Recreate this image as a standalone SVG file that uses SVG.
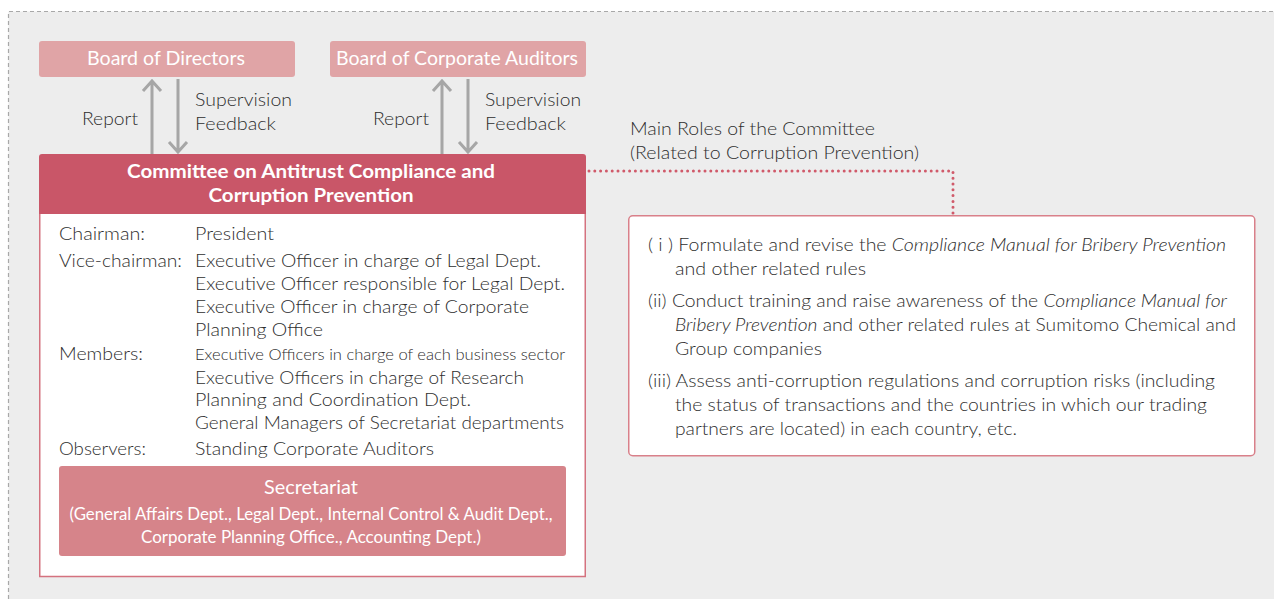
<svg xmlns="http://www.w3.org/2000/svg" width="1274" height="599" viewBox="0 0 1274 599">
<defs>
<style>
text{font-family:Lato,"Open Sans","Liberation Sans",sans-serif;}
.t{fill:#2e2e2e;font-size:18.5px;font-weight:300;}
.w{fill:#fff;font-size:19px;font-weight:400;}
.b{fill:#fff;font-size:19.5px;font-weight:bold;}
.arr{stroke:#a6a6a6;stroke-width:3;fill:none;stroke-linejoin:miter;}
.board{fill:#e0a4a6;}
.i{font-style:italic;}
</style>
</defs>
<rect x="0" y="0" width="1274" height="599" fill="#fff"/>
<rect x="8.5" y="11.5" width="1270" height="592" fill="#ededed"/>
<path d="M8.5 599 V11.5 H1274" fill="none" stroke="#a8a8a8" stroke-width="1.2" stroke-dasharray="4 3"/>

<g id="board-directors">
<rect class="board" x="39" y="41" width="256" height="36" rx="3"/>
<text class="w" x="166" y="65" text-anchor="middle" textLength="158" lengthAdjust="spacingAndGlyphs">Board of Directors</text>
</g>
<g id="board-auditors">
<rect class="board" x="330" y="41" width="256" height="36" rx="3"/>
<text class="w" x="457" y="65" text-anchor="middle" textLength="242" lengthAdjust="spacingAndGlyphs">Board of Corporate Auditors</text>
</g>

<g id="connectors">
<path class="arr" d="M152 154 V81 M143 91 L152 81 L161 91"/>
<path class="arr" d="M178 79 V152 M169 142 L178 152 L187 142"/>
<path class="arr" d="M442 154 V81 M433 91 L442 81 L451 91"/>
<path class="arr" d="M468 79 V152 M459 142 L468 152 L477 142"/>
<path d="M589 171 H953 V214" fill="none" stroke="#d05a6a" stroke-width="3" stroke-linecap="round" stroke-dasharray="0 5.8"/>
<text class="t" x="82" y="125" textLength="56" lengthAdjust="spacingAndGlyphs">Report</text>
<text class="t" x="195" y="106" textLength="97" lengthAdjust="spacingAndGlyphs">Supervision</text>
<text class="t" x="195" y="130" textLength="81" lengthAdjust="spacingAndGlyphs">Feedback</text>
<text class="t" x="373" y="125" textLength="56" lengthAdjust="spacingAndGlyphs">Report</text>
<text class="t" x="485" y="106" textLength="96" lengthAdjust="spacingAndGlyphs">Supervision</text>
<text class="t" x="485" y="130" textLength="81" lengthAdjust="spacingAndGlyphs">Feedback</text>
</g>

<g id="committee">
<rect x="39.75" y="160" width="545.5" height="416.5" fill="#fff" stroke="#d4727f" stroke-width="1.5"/>
<path d="M39 214 V157 Q39 154 42 154 H583 Q586 154 586 157 V214 Z" fill="#c95668"/>
<text class="b" x="311" y="178" text-anchor="middle" textLength="368" lengthAdjust="spacingAndGlyphs">Committee on Antitrust Compliance and</text>
<text class="b" x="311" y="202" text-anchor="middle" textLength="205" lengthAdjust="spacingAndGlyphs">Corruption Prevention</text>
<text class="t" x="59" y="240" textLength="86" lengthAdjust="spacingAndGlyphs">Chairman:</text>
<text class="t" x="195" y="240" textLength="79" lengthAdjust="spacingAndGlyphs">President</text>
<text class="t" x="59" y="267" textLength="123" lengthAdjust="spacingAndGlyphs">Vice-chairman:</text>
<text class="t" x="195" y="267" textLength="346" lengthAdjust="spacingAndGlyphs">Executive Officer in charge of Legal Dept.</text>
<text class="t" x="195" y="290" textLength="370" lengthAdjust="spacingAndGlyphs">Executive Officer responsible for Legal Dept.</text>
<text class="t" x="195" y="313" textLength="334" lengthAdjust="spacingAndGlyphs">Executive Officer in charge of Corporate</text>
<text class="t" x="195" y="336" textLength="128" lengthAdjust="spacingAndGlyphs">Planning Office</text>
<text class="t" x="59" y="360" textLength="84" lengthAdjust="spacingAndGlyphs">Members:</text>
<text class="t" x="195" y="360" style="font-size:16.5px" textLength="370" lengthAdjust="spacingAndGlyphs">Executive Officers in charge of each business sector</text>
<text class="t" x="195" y="384" textLength="329" lengthAdjust="spacingAndGlyphs">Executive Officers in charge of Research</text>
<text class="t" x="195" y="406" textLength="276" lengthAdjust="spacingAndGlyphs">Planning and Coordination Dept.</text>
<text class="t" x="195" y="429" textLength="369" lengthAdjust="spacingAndGlyphs">General Managers of Secretariat departments</text>
<text class="t" x="59" y="455" textLength="87" lengthAdjust="spacingAndGlyphs">Observers:</text>
<text class="t" x="195" y="455" textLength="239" lengthAdjust="spacingAndGlyphs">Standing Corporate Auditors</text>
</g>

<g id="secretariat">
<rect x="59" y="466" width="507" height="90" rx="3" fill="#d6848a"/>
<text class="w" x="311" y="494" text-anchor="middle" textLength="94" lengthAdjust="spacingAndGlyphs">Secretariat</text>
<text class="w" x="311" y="520" text-anchor="middle" style="font-size:16.5px" textLength="483" lengthAdjust="spacingAndGlyphs">(General Affairs Dept., Legal Dept., Internal Control &amp; Audit Dept.,</text>
<text class="w" x="311" y="543" text-anchor="middle" style="font-size:16.5px" textLength="340" lengthAdjust="spacingAndGlyphs">Corporate Planning Office., Accounting Dept.)</text>
</g>

<g id="roles-title">
<text class="t" x="630" y="135" textLength="245" lengthAdjust="spacingAndGlyphs">Main Roles of the Committee</text>
<text class="t" x="630" y="159" textLength="289" lengthAdjust="spacingAndGlyphs">(Related to Corruption Prevention)</text>
</g>

<g id="roles">
<rect x="628.75" y="215.75" width="626" height="240" rx="4" fill="#fff" stroke="#d9808a" stroke-width="1.5"/>
<text class="t" x="648" y="251" textLength="578" lengthAdjust="spacingAndGlyphs">( i ) Formulate and revise the <tspan class="i">Compliance Manual for Bribery Prevention</tspan></text>
<text class="t" x="675" y="275" textLength="191" lengthAdjust="spacingAndGlyphs">and other related rules</text>
<text class="t" x="648" y="307" textLength="579" lengthAdjust="spacingAndGlyphs">(ii) Conduct training and raise awareness of the <tspan class="i">Compliance Manual for</tspan></text>
<text class="t" x="675" y="331" textLength="561" lengthAdjust="spacingAndGlyphs"><tspan class="i">Bribery Prevention</tspan> and other related rules at Sumitomo Chemical and</text>
<text class="t" x="675" y="355" textLength="147" lengthAdjust="spacingAndGlyphs">Group companies</text>
<text class="t" x="648" y="387" textLength="567" lengthAdjust="spacingAndGlyphs">(iii) Assess anti-corruption regulations and corruption risks (including</text>
<text class="t" x="675" y="411" textLength="532" lengthAdjust="spacingAndGlyphs">the status of transactions and the countries in which our trading</text>
<text class="t" x="675" y="435" textLength="342" lengthAdjust="spacingAndGlyphs">partners are located) in each country, etc.</text>
</g>
</svg>
